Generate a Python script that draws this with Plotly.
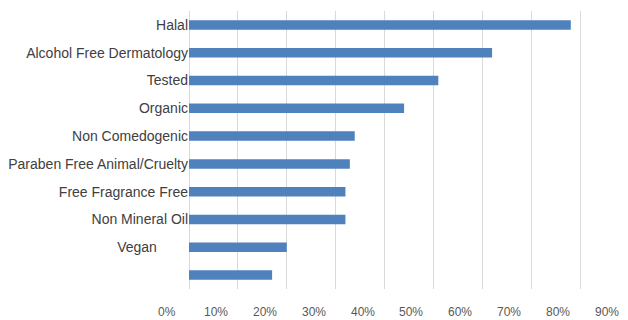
import plotly.graph_objects as go

categories = ["Halal", "Alcohol Free Dermatology", "Tested", "Organic",
              "Non Comedogenic", "Paraben Free Animal/Cruelty",
              "Free Fragrance Free", "Non Mineral Oil",
              "Vegan" + "\u00a0" * 8, ""]
values = [0.781, 0.620, 0.510, 0.440, 0.339, 0.329, 0.320, 0.320, 0.200, 0.170]
tick_values = [0.0, 0.1, 0.2, 0.3, 0.4, 0.5, 0.6, 0.7, 0.8, 0.9]
tick_labels = ["0%", "10%", "20%", "30%", "40%", "50%", "60%", "70%", "80%", "90%"]

x_max = 0.898
label_shift = 0.045
positions = list(range(len(categories)))

fig = go.Figure()
fig.add_trace(go.Bar(
    x=values, y=positions, orientation="h",
    marker=dict(color="#4f81bd", line=dict(width=0)),
    width=0.34,
))

annotations = [
    dict(x=(v - label_shift) / x_max, y=-0.081, xref="paper", yref="paper", text=t,
         showarrow=False, xanchor="center", yanchor="middle",
         font=dict(family="Liberation Sans, Arial", size=12, color="#595959"))
    for v, t in zip(tick_values, tick_labels)
]

fig.update_layout(
    width=620, height=312,
    margin=dict(l=181, r=0, t=3, b=31, autoexpand=False),
    paper_bgcolor="white", plot_bgcolor="white",
    showlegend=False,
    annotations=annotations,
    xaxis=dict(range=[0, x_max], tickvals=tick_values, showticklabels=False,
               showgrid=True, gridcolor="#d9d9d9", gridwidth=1,
               zeroline=True, zerolinecolor="#d9d9d9", zerolinewidth=1,
               showline=False, fixedrange=True),
    yaxis=dict(range=[len(categories) - 0.5, -0.5], tickmode="array",
               tickvals=positions, ticktext=categories,
               showgrid=False, zeroline=False, showline=False,
               ticks="", ticklen=0,
               tickfont=dict(family="Liberation Sans, Arial", size=14, color="#404040"),
               fixedrange=True),
    bargap=0.66,
)

fig.write_html("out.html")
